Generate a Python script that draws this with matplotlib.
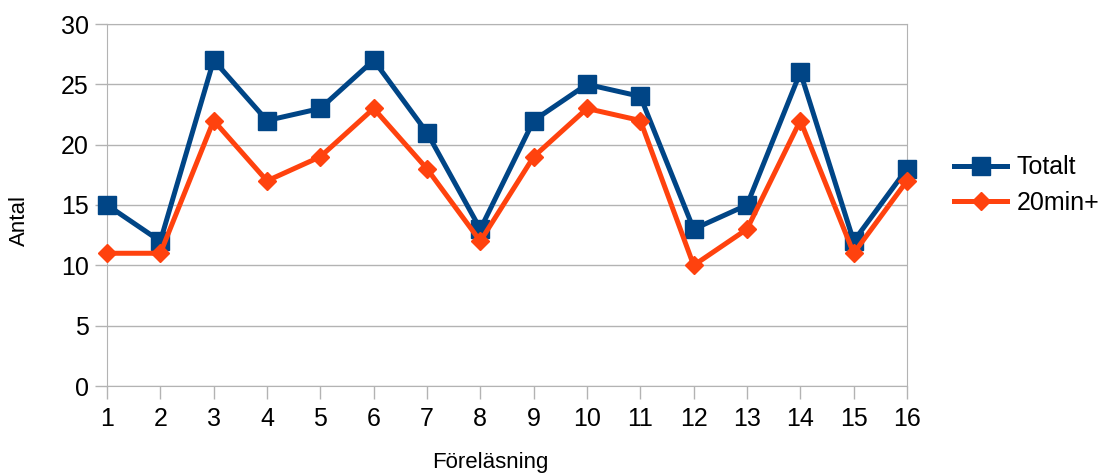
import matplotlib.pyplot as plt

plt.rcParams['font.family'] = ['Liberation Sans', 'DejaVu Sans']

lectures = list(range(1, 17))
totalt = [15, 12, 27, 22, 23, 27, 21, 13, 22, 25, 24, 13, 15, 26, 12, 18]
min20 = [11, 11, 22, 17, 19, 23, 18, 12, 19, 23, 22, 10, 13, 22, 11, 17]

fig = plt.figure(figsize=(11.09, 4.76), dpi=100)
ax = fig.add_axes([107 / 1109, 90 / 476, 800 / 1109, 362 / 476])

ax.plot(lectures, totalt, color='#004586', lw=3.6, marker='s', ms=13,
        label='Totalt', clip_on=False, zorder=3)
ax.plot(lectures, min20, color='#ff420e', lw=3.6, marker='D', ms=9,
        label='20min+', clip_on=False, zorder=4)

ax.set_xlim(1, 16)
ax.set_ylim(0, 30)
ax.set_xticks(lectures)
ax.set_yticks(range(0, 31, 5))
ax.yaxis.grid(True, color='#b3b3b3', lw=1)
ax.set_axisbelow(True)
for s in ax.spines.values():
    s.set_color('#b3b3b3')
ax.tick_params(colors='#b3b3b3', labelcolor='black', labelsize=18, length=9, width=1)
ax.tick_params(axis='x', pad=6)
ax.tick_params(axis='y', pad=4)

# axis titles placed like the original (slightly off-centre)
ax.set_xlabel('Föreläsning', fontsize=16, va='center')
ax.xaxis.set_label_coords(0.479, -0.21)
ax.set_ylabel('Antal', fontsize=16, va='center')
ax.yaxis.set_label_coords(-0.109, 0.456)

leg = ax.legend(loc='center left', bbox_to_anchor=(1.031, 0.555), frameon=False,
                fontsize=18, handlelength=2.1, labelspacing=0.45, handletextpad=0.4)

fig.savefig('out.png', dpi=100)
